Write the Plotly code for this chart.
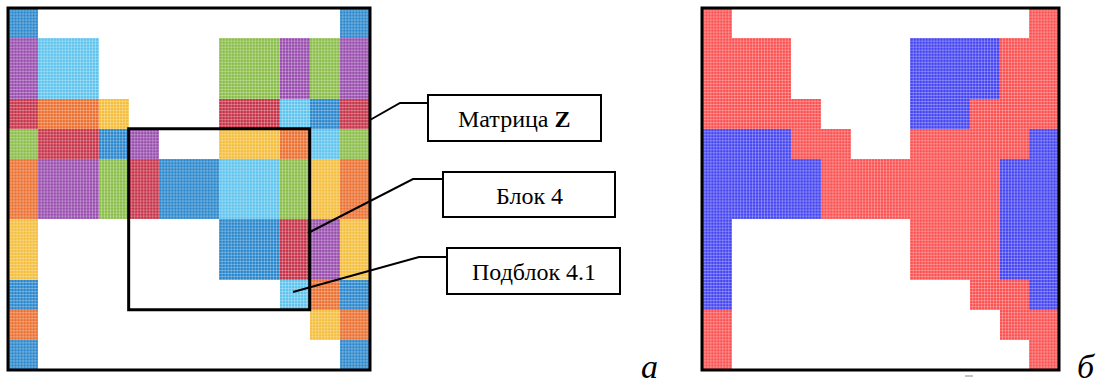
import numpy as np
import plotly.graph_objects as go

W, H = 1104, 387

# Colour codes of the block matrix Z (0 = empty cell)
# 1 blue, 2 purple, 3 light blue, 4 green, 5 red, 6 orange, 7 yellow
matrix_z = [
    [1, 0, 0, 0, 0, 0, 0, 0, 0, 0, 0, 1],
    [2, 3, 3, 0, 0, 0, 0, 4, 4, 2, 4, 2],
    [2, 3, 3, 0, 0, 0, 0, 4, 4, 2, 4, 2],
    [5, 6, 6, 7, 0, 0, 0, 5, 5, 3, 1, 5],
    [4, 5, 5, 1, 2, 0, 0, 7, 7, 6, 3, 4],
    [6, 2, 2, 4, 5, 1, 1, 3, 3, 4, 7, 6],
    [6, 2, 2, 4, 5, 1, 1, 3, 3, 4, 7, 6],
    [7, 0, 0, 0, 0, 0, 0, 1, 1, 5, 2, 7],
    [7, 0, 0, 0, 0, 0, 0, 1, 1, 5, 2, 7],
    [1, 0, 0, 0, 0, 0, 0, 0, 0, 3, 6, 1],
    [6, 0, 0, 0, 0, 0, 0, 0, 0, 0, 7, 6],
    [1, 0, 0, 0, 0, 0, 0, 0, 0, 0, 0, 1],
]
palette_z = ["#2886cc", "#984cae", "#5ec4ee", "#8abd48", "#c63248", "#ec6f2e", "#f5be3a"]

# Two-colour partition of the same sparsity pattern: 1 red, 2 blue
partition = [
    [1, 0, 0, 0, 0, 0, 0, 0, 0, 0, 0, 1],
    [1, 1, 1, 0, 0, 0, 0, 2, 2, 2, 1, 1],
    [1, 1, 1, 0, 0, 0, 0, 2, 2, 2, 1, 1],
    [1, 1, 1, 1, 0, 0, 0, 2, 2, 1, 1, 1],
    [2, 2, 2, 1, 1, 0, 0, 1, 1, 1, 1, 2],
    [2, 2, 2, 2, 1, 1, 1, 1, 1, 1, 2, 2],
    [2, 2, 2, 2, 1, 1, 1, 1, 1, 1, 2, 2],
    [2, 0, 0, 0, 0, 0, 0, 1, 1, 1, 2, 2],
    [2, 0, 0, 0, 0, 0, 0, 1, 1, 1, 2, 2],
    [2, 0, 0, 0, 0, 0, 0, 0, 0, 1, 1, 2],
    [1, 0, 0, 0, 0, 0, 0, 0, 0, 0, 1, 1],
    [1, 0, 0, 0, 0, 0, 0, 0, 0, 0, 0, 1],
]
palette_p = ["#fc5050", "#4444f2"]

# Block 4: rows/cols 4..9 of Z, sub-block 4.1 is its bottom-right cell
block4_rows = (4, 9)
block4_cols = (4, 9)

label_texts = ["Матрица <b>Z</b>", "Блок 4", "Подблок 4.1"]
panel_letters = ["а", "б"]


def px(x):
    return x / W


def py(y):
    return 1 - y / H


def discrete_scale(colors):
    n = len(colors)
    scale = []
    for i, c in enumerate(colors):
        scale.append([i / n, c])
        scale.append([(i + 1) / n, c])
    return scale


def to_z(m):
    a = np.array(m, dtype=float)
    a[a == 0] = np.nan
    return a


N = len(matrix_z)
idx = list(range(N))

fig = go.Figure()

fig.add_trace(go.Heatmap(
    z=to_z(matrix_z), x=idx, y=idx, xaxis="x", yaxis="y",
    colorscale=discrete_scale(palette_z), zmin=0.5, zmax=len(palette_z) + 0.5,
    showscale=False, hoverinfo="skip"))
fig.add_trace(go.Heatmap(
    z=to_z(partition), x=idx, y=idx, xaxis="x2", yaxis="y2",
    colorscale=discrete_scale(palette_p), zmin=0.5, zmax=len(palette_p) + 0.5,
    showscale=False, hoverinfo="skip"))

# Fine mesh texture over the cells (10 sub-divisions per cell)
sub = 10
gx, gy = [], []
for k in range(1, N * sub):
    v = -0.5 + k / sub
    gx += [v, v, None, -0.5, N - 0.5, None]
    gy += [-0.5, N - 0.5, None, v, v, None]
for xa, ya in (("x", "y"), ("x2", "y2")):
    fig.add_trace(go.Scatter(
        x=gx, y=gy, xaxis=xa, yaxis=ya, mode="lines",
        line=dict(color="rgba(255,255,255,0.4)", width=0.7),
        hoverinfo="skip", showlegend=False))

ydom = [py(370), py(8)]
ax_common = dict(visible=False, showgrid=False, zeroline=False, fixedrange=True)
fig.update_layout(
    width=W, height=H, margin=dict(l=0, r=0, t=0, b=0),
    paper_bgcolor="white", plot_bgcolor="white", showlegend=False,
    xaxis=dict(domain=[px(8), px(370)], range=[-0.5, N - 0.5], **ax_common),
    yaxis=dict(domain=ydom, range=[N - 0.5, -0.5], **ax_common),
    xaxis2=dict(domain=[px(702), px(1059)], range=[-0.5, N - 0.5], anchor="y2", **ax_common),
    yaxis2=dict(domain=ydom, range=[N - 0.5, -0.5], anchor="x2", **ax_common),
)

shapes = []
# Panel frames
for xr, yr in (("x domain", "y domain"), ("x2 domain", "y2 domain")):
    shapes.append(dict(type="rect", xref=xr, yref=yr, x0=0, x1=1, y0=0, y1=1,
                       line=dict(color="black", width=3), layer="above"))
# Block 4 frame
shapes.append(dict(type="rect", xref="x", yref="y",
                   x0=block4_cols[0] - 0.5, x1=block4_cols[1] + 0.5,
                   y0=block4_rows[0] - 0.5, y1=block4_rows[1] + 0.5,
                   line=dict(color="black", width=3), layer="above"))

# Callout boxes (pixel geometry) and leader lines
boxes = [(428, 95, 601, 141), (443, 172, 615, 217), (447, 248, 620, 294)]
leaders = [
    [(370, 120), (400, 103), (428, 103)],
    [(308, 233), (413, 179), (443, 179)],
    [(293, 292), (419, 257), (447, 257)],
]
for (x0, y0, x1, y1), pts, txt in zip(boxes, leaders, label_texts):
    shapes.append(dict(type="rect", xref="paper", yref="paper",
                       x0=px(x0), x1=px(x1), y0=py(y1), y1=py(y0),
                       line=dict(color="black", width=2), fillcolor="white", layer="above"))
    path = "M " + " L ".join(f"{px(a):.5f},{py(b):.5f}" for a, b in pts)
    shapes.append(dict(type="path", xref="paper", yref="paper", path=path,
                       line=dict(color="black", width=2), layer="above"))
    fig.add_annotation(x=px((x0 + x1) / 2), y=py((y0 + y1) / 2 + 1), xref="paper", yref="paper",
                       text=txt, showarrow=False, xanchor="center", yanchor="middle",
                       font=dict(family="Liberation Serif", size=24, color="black"))

# small stray dash under the right panel
shapes.append(dict(type="line", xref="paper", yref="paper",
                   x0=px(965), x1=px(973), y0=py(376), y1=py(376),
                   line=dict(color="#b0b0b0", width=1.5)))

fig.update_layout(shapes=shapes)

for (cx, cy), letter in zip([(649, 366), (1086, 366)], panel_letters):
    fig.add_annotation(x=px(cx), y=py(cy), xref="paper", yref="paper", text=f"<i>{letter}</i>",
                       showarrow=False, xanchor="center", yanchor="middle",
                       font=dict(family="Liberation Serif", size=34, color="black"))

fig.write_html("out.html", config={"displayModeBar": False})
